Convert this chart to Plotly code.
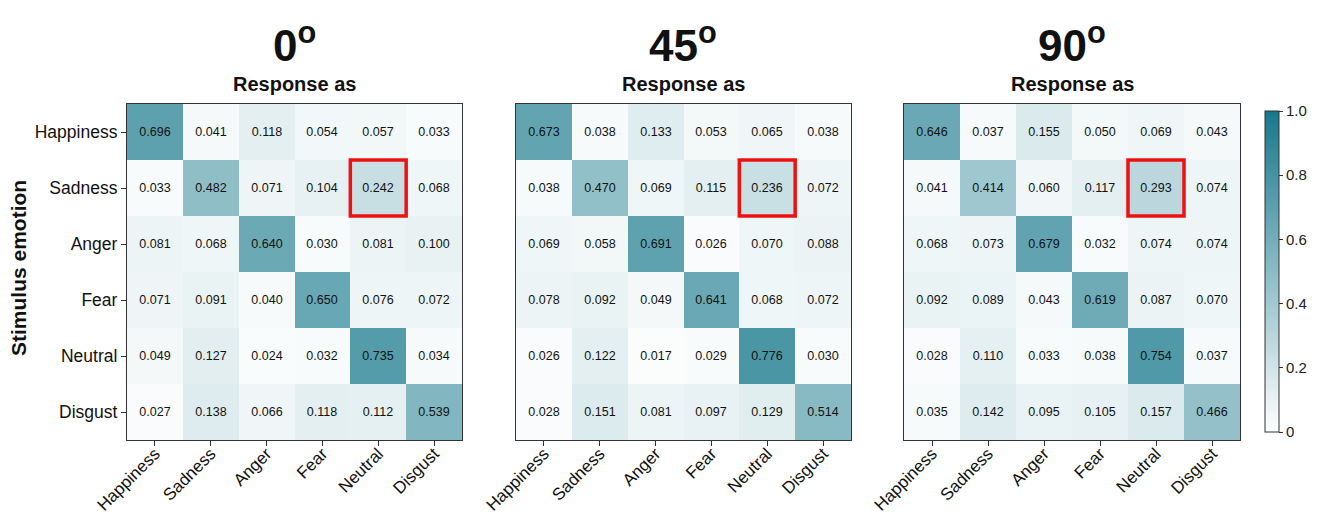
import plotly.graph_objects as go

emotions = ["Happiness", "Sadness", "Anger", "Fear", "Neutral", "Disgust"]
panel_titles = ["0<sup>o</sup>", "45<sup>o</sup>", "90<sup>o</sup>"]

vals_0 = [
    [0.696, 0.041, 0.118, 0.054, 0.057, 0.033],
    [0.033, 0.482, 0.071, 0.104, 0.242, 0.068],
    [0.081, 0.068, 0.640, 0.030, 0.081, 0.100],
    [0.071, 0.091, 0.040, 0.650, 0.076, 0.072],
    [0.049, 0.127, 0.024, 0.032, 0.735, 0.034],
    [0.027, 0.138, 0.066, 0.118, 0.112, 0.539],
]
vals_45 = [
    [0.673, 0.038, 0.133, 0.053, 0.065, 0.038],
    [0.038, 0.470, 0.069, 0.115, 0.236, 0.072],
    [0.069, 0.058, 0.691, 0.026, 0.070, 0.088],
    [0.078, 0.092, 0.049, 0.641, 0.068, 0.072],
    [0.026, 0.122, 0.017, 0.029, 0.776, 0.030],
    [0.028, 0.151, 0.081, 0.097, 0.129, 0.514],
]
vals_90 = [
    [0.646, 0.037, 0.155, 0.050, 0.069, 0.043],
    [0.041, 0.414, 0.060, 0.117, 0.293, 0.074],
    [0.068, 0.073, 0.679, 0.032, 0.074, 0.074],
    [0.092, 0.089, 0.043, 0.619, 0.087, 0.070],
    [0.028, 0.110, 0.033, 0.038, 0.754, 0.037],
    [0.035, 0.142, 0.095, 0.105, 0.157, 0.466],
]
highlight = ("Neutral", "Sadness")
colorbar_ticks = [0, 0.2, 0.4, 0.6, 0.8, 1.0]
colorbar_labels = ["0", "0.2", "0.4", "0.6", "0.8", "1.0"]

# page body has an 8px margin; the figure is sized to fit inside the window
OFF = 8
W, H = 1322 - 2 * OFF, 522 - 2 * OFF
FONT = "Liberation Sans, Arial, sans-serif"
colorscale = [[0, "#ffffff"], [1, "#17788b"]]


def px_x(v):
    return (v - OFF) / W


def px_y(v):
    return 1 - (v - OFF) / H


x_px = [(127, 462), (516, 851), (904, 1240)]
y_px = (104, 440)
ydom = [px_y(y_px[1]), px_y(y_px[0])]

fig = go.Figure()
all_vals = [vals_0, vals_45, vals_90]
for i, vals in enumerate(all_vals):
    n = "" if i == 0 else str(i + 1)
    fig.add_trace(go.Heatmap(
        z=vals, x=emotions, y=emotions,
        xaxis="x" + n, yaxis="y" + n,
        colorscale=colorscale, zmin=0, zmax=1,
        text=[[f"{v:.3f}" for v in row] for row in vals],
        texttemplate="%{text}",
        textfont=dict(size=12.5, color="#111111", family=FONT),
        showscale=(i == 2),
        xgap=0, ygap=0,
        colorbar=dict(
            x=px_x(1265), xanchor="left", thickness=14, xpad=0, ypad=0,
            len=(432 - 111) / H, lenmode="fraction",
            y=px_y(111), yanchor="top",
            tickvals=colorbar_ticks, ticktext=colorbar_labels,
            ticks="outside", ticklen=4, tickcolor="#333",
            outlinecolor="#333", outlinewidth=1,
            tickfont=dict(size=15, family=FONT, color="#222"),
        ),
        hoverinfo="skip",
    ))
    xd = [px_x(x_px[i][0]), px_x(x_px[i][1])]
    fig.update_layout(**{
        "xaxis" + n: dict(
            domain=xd, anchor="y" + n, side="bottom", automargin=False,
            tickangle=-45, ticks="outside", ticklen=5, tickcolor="#333",
            tickfont=dict(size=17, family=FONT, color="#111"),
            showline=True, mirror=True, linecolor="#333", linewidth=1.2,
            showgrid=False, zeroline=False,
        ),
        "yaxis" + n: dict(
            domain=ydom, anchor="x" + n, autorange="reversed", automargin=False,
            ticks="outside" if i == 0 else "", ticklen=5, tickcolor="#333",
            showticklabels=(i == 0),
            tickfont=dict(size=17.5, family=FONT, color="#111"),
            showline=True, mirror=True, linecolor="#333", linewidth=1.2,
            showgrid=False, zeroline=False,
        ),
    })
    cx = (xd[0] + xd[1]) / 2
    fig.add_annotation(text=f"<b>{panel_titles[i]}</b>", x=cx, y=px_y(42),
                       xref="paper", yref="paper", showarrow=False,
                       xanchor="center", yanchor="middle",
                       font=dict(size=44, family=FONT, color="#111"))
    fig.add_annotation(text="<b>Response as</b>", x=cx, y=px_y(84),
                       xref="paper", yref="paper", showarrow=False,
                       xanchor="center", yanchor="middle",
                       font=dict(size=20, family=FONT, color="#111"))
    # highlight box around the Sadness -> Neutral cell
    col = emotions.index(highlight[0])
    row = emotions.index(highlight[1])
    fig.add_shape(type="rect", xref="x" + n, yref="y" + n,
                  x0=col - 0.5, x1=col + 0.5, y0=row - 0.5, y1=row + 0.5,
                  line=dict(color="#ee1111", width=3.5))

fig.add_annotation(text="<b>Stimulus emotion</b>", x=px_x(18), y=px_y(268),
                   xref="paper", yref="paper", showarrow=False, textangle=-90,
                   xanchor="center", yanchor="middle",
                   font=dict(size=21, family=FONT, color="#111"))

fig.update_layout(
    width=W, height=H,
    margin=dict(l=0, r=0, t=0, b=0, autoexpand=False),
    paper_bgcolor="white", plot_bgcolor="white",
    font=dict(family=FONT),
)
try:
    fig.update_xaxes(ticklabelstandoff=-9)
except ValueError:
    pass
fig.write_html("out.html")
